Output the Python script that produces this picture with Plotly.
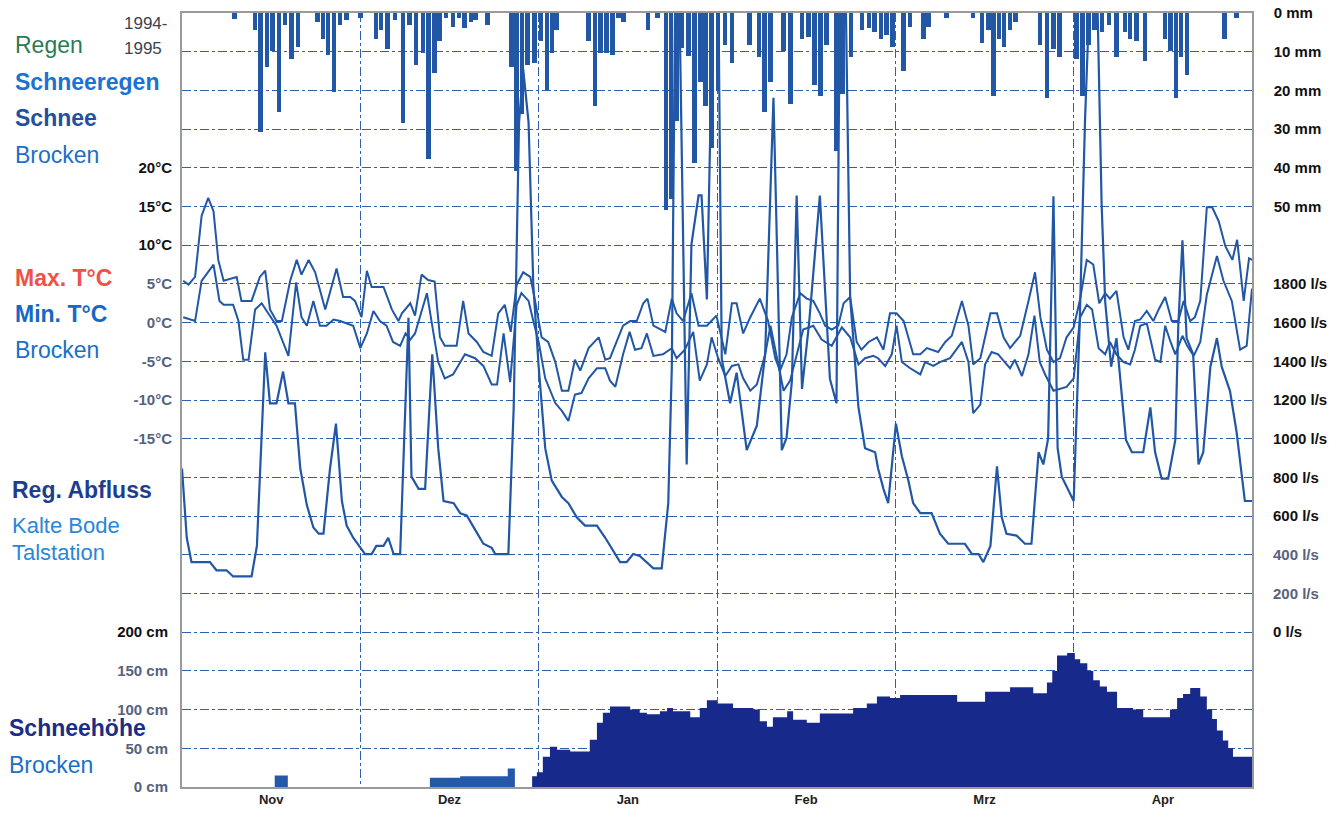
import plotly.graph_objects as go

# ---------------- data (x = days since 1 Nov 1994) ----------------
months = ["Nov", "Dez", "Jan", "Feb", "Mrz", "Apr"]
month_centers = [15, 45, 75, 105, 135, 165]
month_bounds = [30, 60, 90, 120, 150]

precip_day = [8.8, 12.3, 13.2, 14.3, 15.2, 16.3, 17.3, 18.4, 19.5, 22.8, 23.7, 24.6, 25.6, 26.6, 27.7,
              30.0, 32.6, 33.5, 34.6, 35.8, 37.2, 38.3, 39.4, 40.5, 41.5, 42.5, 43.3, 44.4, 45.6, 46.6,
              47.5, 48.6, 49.4, 51.4, 55.4, 56.3, 57.2, 58.1, 59.3, 60.4, 61.4, 62.2, 63.0, 68.4, 69.5,
              70.4, 71.4, 72.4, 73.4, 74.3, 78.4, 80.0, 81.4, 82.3, 83.3, 84.1, 85.2, 86.2, 87.2, 88.1,
              89.1, 90.2, 91.3, 92.5, 95.5, 97.1, 98.0, 99.0, 101.2, 102.4, 104.3, 105.4, 106.4, 107.4,
              108.4, 110.1, 111.1, 112.5, 114.4, 115.6, 116.5, 117.6, 118.5, 119.5, 121.4, 122.5, 124.7,
              125.6, 128.6, 133.1, 134.6, 135.7, 136.5, 137.4, 138.3, 139.3, 140.2, 144.3, 145.5, 146.6,
              147.6, 150.5, 151.5, 152.5, 153.5, 154.8, 155.9, 157.2, 158.6, 159.5, 160.6, 162.0, 165.4,
              166.3, 167.2, 168.1, 169.1, 175.4, 177.4]
precip_mm = [1.5, 4.5, 30.8, 14.0, 9.8, 25.6, 3.0, 11.9, 8.7, 2.4, 6.6, 10.8, 20.3, 3.0, 1.9,
             1.4, 6.6, 4.5, 9.2, 1.9, 28.5, 3.0, 13.5, 10.3, 37.7, 15.6, 7.2, 1.4, 3.5, 1.4,
             4.0, 2.4, 1.9, 3.0, 14.0, 40.8, 26.0, 13.5, 13.0, 7.2, 19.8, 10.3, 4.5, 7.2, 24.0,
             10.3, 10.3, 10.8, 1.4, 2.4, 4.5, 1.4, 51.0, 48.0, 28.0, 9.0, 11.0, 38.7, 17.7, 24.0,
             35.0, 19.8, 8.2, 13.0, 8.2, 11.4, 25.6, 17.7, 9.8, 23.5, 6.6, 6.1, 18.7, 21.4,
             8.2, 35.6, 20.8, 11.4, 4.5, 4.0, 5.0, 6.6, 5.6, 8.7, 15.0, 3.5, 6.6,
             3.5, 1.4, 1.4, 7.7, 4.5, 21.4, 6.6, 8.7, 4.5, 2.4, 8.2, 21.9, 9.3,
             11.4, 12.0, 21.4, 8.2, 4.5, 5.0, 3.0, 11.4, 5.0, 6.6, 7.2, 12.4, 6.6,
             9.8, 21.9, 11.4, 16.1, 6.6, 1.4]

tmax_day = [0.2, 1.1, 2.2, 3.3, 4.4, 5.3, 6.1, 7.0, 9.2, 10.0, 11.7, 13.1, 14.0, 14.8, 15.9, 16.8, 18.2,
            19.3, 20.1, 21.3, 22.4, 24.1, 26.0, 27.1, 28.3, 29.1, 30.2, 31.1, 31.9, 33.9, 35.3, 36.4,
            37.0, 38.4, 39.2, 40.3, 41.4, 42.5, 43.4, 44.2, 46.2, 47.3, 48.2, 49.6, 50.7, 52.1, 53.2,
            54.3, 55.3, 56.3, 57.4, 58.6, 59.4, 60.5, 61.6, 62.8, 63.9, 65.0, 66.1, 67.0, 68.4, 70.1,
            71.2, 72.0, 73.1, 74.2, 75.4, 76.5, 77.6, 78.3, 79.3, 81.3, 82.4, 83.2, 84.3, 85.7, 86.9,
            88.3, 89.9, 91.4, 92.5, 93.3, 94.4, 95.6, 97.2, 98.6, 99.8, 100.6, 101.7, 102.6, 104.0,
            105.1, 106.2, 107.3, 108.2, 109.3, 110.4, 111.3, 112.4, 113.5, 114.3, 115.5, 116.9, 118.0,
            119.1, 120.2, 121.4, 123.0, 124.2, 125.3, 127.2, 128.4, 129.5, 131.2, 132.3, 133.1, 134.3,
            136.0, 137.1, 138.2, 139.3, 141.0, 142.4, 143.5, 144.4, 145.5, 146.6, 147.7, 148.8, 150.0,
            151.1, 152.2, 153.3, 154.3, 155.3, 156.1, 157.2, 158.4, 159.2, 160.3, 161.2, 162.3, 163.4,
            164.3, 165.4, 166.5, 167.6, 168.5, 169.6, 170.4, 171.3, 172.4, 173.3, 174.4, 175.5, 176.7,
            177.5, 178.6, 179.5, 180.0]
tmax_c = [5.4, 4.9, 5.9, 13.8, 16.1, 14.4, 8.1, 5.4, 5.9, 2.8, 2.8, 5.9, 6.7, 1.7, 0.2, 0.2, 5.4,
          8.1, 6.2, 8.1, 6.5, 1.7, 7.0, 3.3, 3.3, 2.8, 0.7, 6.7, 4.6, 4.6, 1.7, 0.2,
          1.2, 2.5, 0.9, 6.2, 5.5, 5.3, -1.9, -3.0, -3.0, 2.8, -1.4, -2.5, -3.8, -4.3, 1.2,
          2.3, -1.2, 4.9, 6.5, 5.9, 2.8, -1.9, -2.5, -5.1, -8.8, -8.8, -4.8, -6.2, -3.3, -1.9,
          -4.8, -4.6, -2.5, -0.4, 0.2, 0.2, 2.5, 3.1, -0.4, -1.2, 3.1, 1.2, 0.2, 3.8, -0.4,
          -0.4, 0.9, -4.1, 2.5, 2.5, -1.4, 0.7, 3.1, 0.2, -4.6, -6.2, -4.1, 0.7, 3.8,
          3.1, 2.8, 1.2, -0.4, -0.9, -0.4, 2.5, 3.3, -2.5, -3.5, -2.5, -1.9, -3.5,
          1.2, 1.2, 0.2, -4.1, -4.1, -3.3, -3.8, -2.5, -1.7, 2.8, -0.4, -5.4, -4.6,
          1.2, 1.2, -1.9, -3.3, -1.7, 2.8, 6.5, 0.7, -3.5, -5.1, -4.6, -1.9, -0.6,
          3.1, 8.1, 7.5, 2.5, 3.8, 3.1, 4.1, -1.9, -3.5, 0.2, 0.4, 1.5, 0.2,
          1.7, 3.3, 0.2, 0.2, 2.8, 0.2, 0.7, 2.8, 14.9, 14.9, 13.1, 9.9, 8.1,
          10.7, 2.8, 8.3, 8.1]

tmin_day = [0.2, 2.2, 3.3, 5.3, 6.3, 7.0, 8.6, 9.5, 10.3, 11.2, 12.3, 13.4, 14.5, 15.9, 17.9, 19.2,
            20.1, 21.0, 22.1, 23.2, 24.3, 25.5, 26.6, 28.8, 30.0, 31.1, 32.2, 33.3, 34.4, 35.5, 36.7,
            37.6, 38.4, 39.2, 41.2, 42.0, 43.1, 44.2, 45.6, 47.6, 49.3, 50.7, 52.1, 53.0, 54.1, 55.2,
            56.3, 57.1, 58.3, 59.1, 60.0, 61.1, 62.8, 63.9, 65.0, 66.1, 67.2, 68.4, 69.8, 71.2, 72.0,
            72.9, 74.2, 75.3, 76.2, 77.3, 78.2, 79.3, 80.9, 82.4, 83.2, 84.6, 86.0, 87.1, 88.3, 89.1,
            90.2, 91.4, 92.5, 93.6, 94.4, 95.6, 96.7, 98.1, 99.0, 100.1, 101.2, 102.3, 103.4, 104.5,
            106.2, 107.6, 109.3, 111.0, 112.4, 113.8, 114.9, 116.3, 117.1, 118.3, 119.4, 120.2, 121.1,
            122.5, 124.2, 125.0, 126.4, 127.5, 129.2, 131.2, 132.3, 133.1, 134.3, 135.1, 136.2, 137.3,
            138.4, 139.3, 140.1, 141.3, 142.4, 143.4, 144.3, 145.2, 146.6, 147.7, 148.8, 150.0, 151.1,
            152.2, 153.1, 154.2, 155.3, 156.1, 157.2, 158.4, 159.5, 160.3, 161.2, 162.3, 163.7, 164.6,
            165.4, 166.3, 167.1, 168.3, 169.1, 170.2, 171.3, 172.4, 174.1, 175.2, 176.6, 178.0, 179.1,
            180.0]
tmin_c = [0.7, 0.2, 5.4, 7.5, 2.8, 2.3, 2.3, 0.2, -4.8, -4.8, 1.7, 2.5, 1.2, -0.4, -4.3, 5.2,
          0.7, -0.4, 2.8, -0.4, -0.4, 0.4, 0.2, -0.4, -3.3, -1.4, 1.5, 0.2, -0.4, -2.5, -3.0,
          -1.4, -2.2, -1.4, 3.8, 0.2, -5.1, -7.2, -6.7, -4.1, -4.6, -5.6, -8.0, -8.0, -1.4, -7.7,
          2.3, 3.8, 2.8, 0.2, -2.5, -7.2, -10.4, -11.4, -12.7, -9.3, -9.1, -7.2, -5.9, -5.9, -7.5,
          -8.3, -4.1, -1.2, -3.5, -3.3, -1.4, -4.3, -4.1, -3.3, -4.6, -3.5, -1.2, -7.5, -5.4, -1.9,
          -4.6, -6.9, -5.6, -5.4, -7.2, -8.8, -8.0, -4.1, -0.4, -4.6, -8.8, -7.5, -4.1, -0.9,
          -0.4, -2.2, -3.0, -0.6, -1.9, -5.4, -4.6, -4.3, -4.6, -5.6, -4.1, -0.4, -5.1,
          -5.9, -6.7, -5.1, -5.6, -5.1, -4.6, -2.5, -5.1, -11.7, -10.6, -5.4, -3.8, -4.1,
          -5.1, -5.9, -4.8, -6.9, -4.1, 0.9, -5.1, -6.7, -8.8, -8.5, -8.3, -7.2, 0.7,
          2.3, 1.7, -3.3, -4.1, -2.5, -4.1, -5.1, -5.4, -3.5, -0.4, -0.1, -4.8, -5.1,
          -0.4, -2.5, -4.1, -1.7, -3.0, -4.3, -2.5, 3.6, 8.6, 5.4, 2.8, -3.5, -3.0,
          4.4]

flow_day = [0.0, 0.8, 1.6, 4.7, 5.8, 7.5, 8.6, 11.7, 12.6, 13.1, 14.0, 14.8, 15.9, 17.0, 17.9, 19.0,
            19.9, 21.0, 22.1, 23.0, 23.8, 24.9, 25.9, 26.9, 27.7, 28.8, 30.8, 31.9, 32.7, 33.9, 34.7,
            35.6, 36.7, 38.1, 38.6, 39.8, 40.9, 42.1, 43.1, 44.0, 45.7, 46.8, 47.9, 49.3, 50.7, 52.1,
            52.7, 54.9, 55.8, 56.7, 57.4, 58.3, 59.1, 60.0, 61.1, 62.2, 63.9, 65.0, 66.4, 67.8, 69.8,
            71.2, 72.5, 73.7, 74.8, 75.9, 77.0, 78.2, 79.3, 80.7, 81.8, 82.4, 83.0, 83.6, 84.9, 85.7,
            86.9, 87.4, 88.3, 89.4, 90.2, 90.8, 92.2, 93.3, 94.5, 95.0, 96.7, 98.1, 99.5, 100.9, 101.7,
            102.6, 103.4, 104.3, 105.5, 107.3, 109.0, 110.1, 110.7, 111.6, 112.4, 113.8, 114.9, 116.6,
            117.1, 118.0, 118.8, 119.4, 120.1, 121.1, 122.2, 123.0, 124.2, 126.1, 127.5, 128.9, 131.7,
            132.9, 134.0, 134.8, 136.0, 137.1, 137.9, 138.7, 140.4, 141.8, 142.9, 144.1, 144.9, 145.7,
            146.6, 147.3, 148.0, 150.0, 151.0, 151.9, 152.8, 153.9, 154.7, 155.3, 156.3, 157.2, 158.8,
            159.8, 161.7, 162.9, 163.7, 164.8, 165.9, 167.1, 167.6, 168.3, 169.0, 170.1, 171.0, 171.8,
            173.0, 174.1, 174.9, 176.3, 177.4, 178.8, 180.0]
flow_ls = [846, 488, 362, 362, 320, 320, 288, 288, 446, 804, 1446, 1183, 1183, 1347, 1183, 1183,
           846, 657, 541, 509, 509, 846, 1078, 678, 551, 488, 404, 404, 446, 446, 488,
           404, 404, 1625, 804, 741, 741, 1436, 951, 678, 667, 615, 604, 530, 457, 436,
           404, 404, 1162, 2635, 2909, 2635, 1793, 1372, 951, 783, 699, 667, 594, 551, 551,
           488, 420, 362, 362, 404, 394, 362, 330, 330, 667, 1372, 3400, 3400, 867, 2004,
           2257, 2257, 1720, 3400, 3400, 1414, 1183, 1341, 1036, 941, 1067, 1436, 2762, 941, 1004,
           1299, 2257, 1257, 1600, 2257, 1309, 1183, 3400, 3400, 1730, 1162, 951, 930,
           846, 741, 667, 846, 1078, 909, 783, 667, 615, 615, 509, 457, 457,
           404, 404, 362, 446, 857, 594, 509, 499, 457, 457, 930, 867, 1000,
           2253, 951, 804, 678, 1583, 2635, 3400, 3400, 2214, 1709, 1372, 1520, 994,
           930, 930, 1162, 930, 794, 794, 994, 1583, 2025, 1520, 1436, 867, 930,
           1372, 1520, 1372, 1246, 1036, 678, 678]

snow_early_day = [0.0, 15.6, 17.8, 41.7, 46.8, 54.8, 56.0, 58.9]
snow_early_cm = [0, 15, 0, 12, 14, 24, 0, 0]

snow_day = [58.9, 59.7, 60.7, 61.9, 63.1, 65.3, 68.6, 69.8, 70.8, 72.0, 75.4, 77.0, 78.2, 80.4, 81.6,
            82.6, 85.5, 87.1, 88.3, 90.0, 92.7, 96.1, 97.2, 98.4, 99.4, 101.8, 102.8, 105.1, 107.3,
            112.9, 115.2, 116.9, 119.1, 120.8, 130.4, 135.1, 139.3, 143.2, 145.5, 146.4, 147.2, 148.9,
            150.2, 151.1, 152.3, 153.3, 154.4, 155.6, 157.3, 160.0, 161.7, 166.2, 167.4, 168.4, 169.6,
            171.3, 172.4, 173.3, 174.1, 175.1, 176.0, 176.8, 180.0]
snow_cm = [14, 19, 39, 52, 48, 46, 61, 83, 96, 104, 100, 96, 94, 98, 102,
           98, 90, 102, 112, 108, 102, 100, 85, 78, 90, 98, 87, 83, 95,
           102, 108, 117, 115, 119, 110, 123, 129, 121, 135, 150, 170, 173,
           165, 160, 150, 138, 130, 123, 102, 100, 90, 100, 115, 120, 128,
           117, 100, 88, 73, 60, 50, 39, 39]

temp_ticks = [20, 15, 10, 5, 0, -5, -10, -15]
flow_ticks = [1800, 1600, 1400, 1200, 1000, 800, 600, 400, 200, 0]
precip_ticks = [0, 10, 20, 30, 40, 50]
snow_ticks = [200, 150, 100, 50, 0]

# ---------------- styling ----------------
LINE = "#2157a4"
GRID = "#2f5fae"
FONT = "Liberation Sans, Arial, sans-serif"
FADE = "#56627e"


def b(t, color=None):
    if color:
        return f"<span style='color:{color}'><b>{t}</b></span>"
    return f"<b>{t}</b>"


fig = go.Figure()

fig.add_trace(go.Bar(x=precip_day, y=precip_mm, yaxis="y", width=0.75,
                     marker=dict(color=LINE, line=dict(width=0)), hoverinfo="skip"))
fig.add_trace(go.Scatter(x=tmax_day, y=tmax_c, yaxis="y2", mode="lines",
                         line=dict(color=LINE, width=2)))
fig.add_trace(go.Scatter(x=tmin_day, y=tmin_c, yaxis="y2", mode="lines",
                         line=dict(color=LINE, width=2)))
fig.add_trace(go.Scatter(x=flow_day, y=flow_ls, yaxis="y3", mode="lines",
                         line=dict(color=LINE, width=2.2)))
fig.add_trace(go.Scatter(x=snow_early_day, y=snow_early_cm, yaxis="y4", mode="lines",
                         line=dict(color="#2458a8", width=0, shape="hv"),
                         fill="tozeroy", fillcolor="#2458a8"))
fig.add_trace(go.Scatter(x=snow_day, y=snow_cm, yaxis="y4", mode="lines",
                         line=dict(color="#17298a", width=0, shape="hv"),
                         fill="tozeroy", fillcolor="#17298a"))

precip_text = [b(f"{v} mm") if v in precip_ticks else "" for v in range(0, 201, 10)]
temp_text = [b(f"{t}°C") if t >= 10 else b(f"{t}°C", FADE) for t in temp_ticks]
flow_text = [b(f"{q} l/s", FADE) if q in (200, 400) else b(f"{q} l/s") for q in flow_ticks]
snow_text = [b(f"{s} cm") if s == 200 else b(f"{s} cm", FADE) for s in snow_ticks]

tick_font = dict(family=FONT, size=15, color="#111")
hidden_tick = dict(ticks="outside", tickcolor="rgba(0,0,0,0)", automargin=False)

fig.update_layout(
    width=1336, height=819,
    margin=dict(l=182, r=84, t=13, b=32, autoexpand=False),
    paper_bgcolor="white", plot_bgcolor="white",
    showlegend=False, bargap=0,
    xaxis=dict(range=[0, 180], tickmode="array", tickvals=month_centers,
               ticktext=[b(m) for m in months], tickfont=dict(family=FONT, size=13, color="#222"),
               showgrid=False, zeroline=False, ticks="", automargin=False,
               showline=True, linecolor="#9a9a9a", linewidth=1.5, mirror=True,
               minor=dict(tickmode="array", tickvals=month_bounds, showgrid=True,
                          gridcolor=GRID, griddash="dashdot", gridwidth=1, ticks="")),
    yaxis=dict(range=[200, 0], side="right", tickmode="array",
               tickvals=list(range(0, 201, 10)), ticktext=precip_text, tickfont=tick_font,
               showgrid=True, gridcolor=GRID, griddash="dashdot", gridwidth=1,
               zeroline=False, showline=True, linecolor="#9a9a9a", linewidth=1.5, mirror=True,
               ticklen=17, **hidden_tick),
    yaxis2=dict(overlaying="y", side="left", range=[-60, 40], tickmode="array",
                tickvals=temp_ticks, ticktext=temp_text, tickfont=tick_font,
                showgrid=False, zeroline=False, ticklen=6, **hidden_tick),
    yaxis3=dict(overlaying="y", side="right", range=[-800, 3200], tickmode="array",
                tickvals=flow_ticks, ticktext=flow_text, tickfont=tick_font,
                showgrid=False, zeroline=False, ticklen=17, **hidden_tick),
    yaxis4=dict(overlaying="y", side="left", range=[0, 1000], tickmode="array",
                tickvals=snow_ticks, ticktext=snow_text, tickfont=tick_font,
                showgrid=False, zeroline=False, ticklen=10, **hidden_tick),
)


def px(x):
    return (x - 182) / 1070


def py(y):
    return (787 - y) / 774


labels = [
    ("1994-", 122, 24, "#3c4350", False, 17),
    ("1995", 122, 48, "#3c4350", False, 17),
    ("Regen", 13, 45, "#2a7b55", False, 23),
    ("Schneeregen", 13, 82, "#1b72d0", True, 23),
    ("Schnee", 13, 118, "#1f51a0", True, 23),
    ("Brocken", 13, 155, "#1a6fca", False, 23),
    ("Max. T°C", 13, 278, "#ef5149", True, 23),
    ("Min. T°C", 13, 314, "#1768c6", True, 23),
    ("Brocken", 13, 350, "#1a6fca", False, 23),
    ("Reg. Abfluss", 10, 490, "#1e3e8c", True, 23),
    ("Kalte Bode", 10, 525, "#2a86d8", False, 22),
    ("Talstation", 10, 552, "#2a86d8", False, 22),
    ("Schneehöhe", 7, 728, "#1b2d86", True, 23),
    ("Brocken", 7, 765, "#1a6fca", False, 23),
]
for text, x, y, color, bold, size in labels:
    fig.add_annotation(xref="paper", yref="paper", x=px(x), y=py(y), xanchor="left",
                       yanchor="middle", showarrow=False,
                       text=f"<b>{text}</b>" if bold else text,
                       font=dict(family=FONT, size=size, color=color))

fig.write_html("out.html", config={"displayModeBar": False},
               post_script="document.body.style.margin='0';")
